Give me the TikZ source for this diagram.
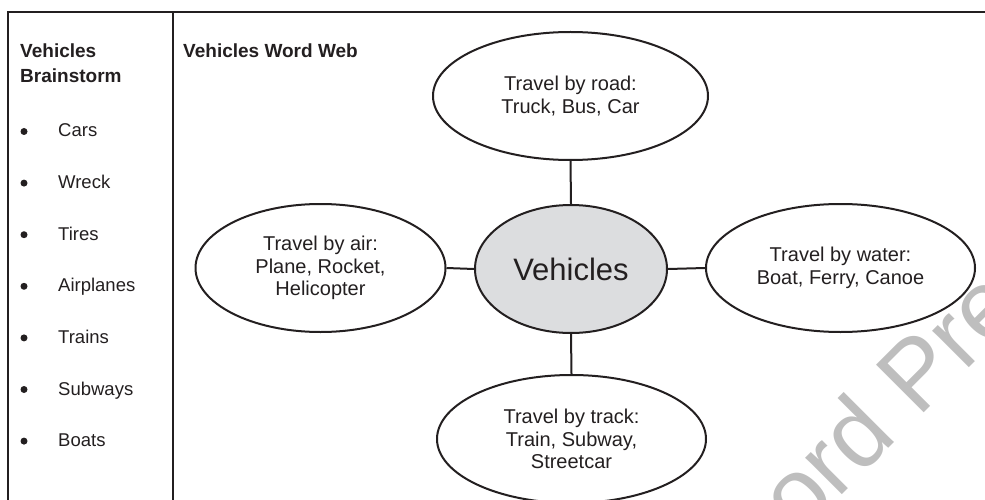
\documentclass[tikz,border=0pt]{standalone}
\usepackage{fontspec}
\setmainfont{Liberation Sans}
\usetikzlibrary{shapes.geometric}
\definecolor{ink}{RGB}{35,31,32}
\definecolor{hub}{RGB}{220,221,223}
\definecolor{wm}{RGB}{190,190,190}
\begin{document}
\begin{tikzpicture}[x=1pt,y=-1pt,
  bubble/.style={ellipse,draw=ink,line width=2pt,inner sep=0pt,align=center,text=ink,
                 font=\fontsize{20}{22.5}\selectfont},
  link/.style={draw=ink,line width=2pt},
  frame/.style={draw=ink,line width=2.3pt},
  item/.style={anchor=base west,inner sep=0pt,text=ink,font=\fontsize{18.5}{22}\selectfont},
  dot/.style={circle,fill=ink,inner sep=0pt,minimum size=7pt},
  head/.style={anchor=base west,inner sep=0pt,text=ink,font=\bfseries\fontsize{19}{25}\selectfont}]
\useasboundingbox (0,0) rectangle (985,500);
\begin{scope}
\clip (0,0) rectangle (985,500);
% watermark
\node[rotate=45,anchor=base west,inner sep=0pt,text=wm,font=\fontsize{98}{98}\selectfont] (wmark) at (799,538) {ord Press};
% frame
\draw[frame] (985,12) -- (8,12) -- (8,500);
\draw[frame] (173,12) -- (173,500);
% left column
\node[head] (h1) at (20,58) {Vehicles};
\node[head] (h2) at (20,83) {Brainstorm};
\foreach \t [count=\i from 0] in {Cars,Wreck,Tires,Airplanes,Trains,Subways,Boats}{
  \node[dot] (d\i) at (24,137+51.6*\i-5.5) {};
  \node[item] (t\i) at (58,137+51.6*\i) {\t};
}
% word web
\node[head] (title) at (183,58) {Vehicles Word Web};
\node[bubble,fill=hub,minimum width=192pt,minimum height=128pt,font=\fontsize{31}{34}\selectfont] (hubnode) at (571,269) {Vehicles};
\node[bubble,minimum width=275pt,minimum height=128pt] (road) at (570.5,96) {Travel by road:\\Truck, Bus, Car};
\node[bubble,minimum width=250pt,minimum height=128pt] (air) at (320.5,268) {Travel by air:\\Plane, Rocket,\\Helicopter};
\node[bubble,minimum width=269pt,minimum height=128pt] (water) at (840.5,268) {Travel by water:\\Boat, Ferry, Canoe};
\node[bubble,minimum width=269pt,minimum height=128pt] (track) at (571.5,439) {Travel by track:\\Train, Subway,\\Streetcar};
\draw[link] (hubnode.north) -- (road.south);
\draw[link] (hubnode.south) -- (track.north);
\draw[link] (hubnode.west) -- (air.east);
\draw[link] (hubnode.east) -- (water.west);
\end{scope}
\end{tikzpicture}
\end{document}
